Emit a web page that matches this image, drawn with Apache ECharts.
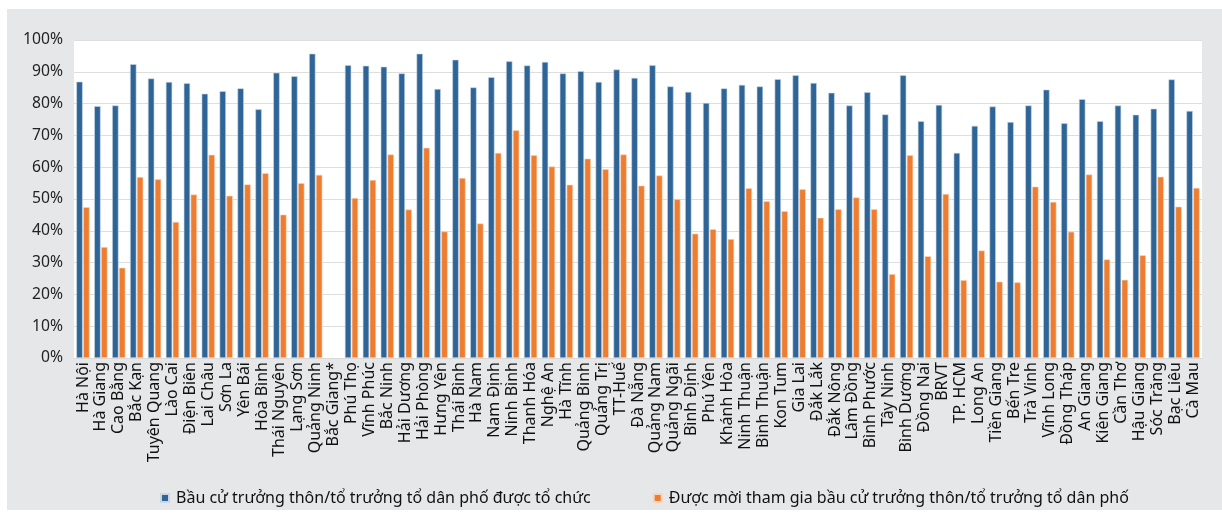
<!DOCTYPE html>
<html>
<head>
<meta charset="utf-8">
<script src="https://cdn.jsdelivr.net/npm/echarts@6/dist/echarts.min.js"></script>
<style>
  html, body { margin: 0; padding: 0; background: #ffffff; }
  #bg { position: absolute; left: 7px; top: 9px; width: 1215px; height: 501px; background: #e6e7e9; }
  #chart { position: absolute; left: 0; top: 0; width: 1222px; height: 516px; }
</style>
</head>
<body>
<div id="bg"></div>
<div id="chart"></div>
<script>
const provinces = ["Hà Nội","Hà Giang","Cao Bằng","Bắc Kạn","Tuyên Quang","Lào Cai","Điện Biên","Lai Châu","Sơn La","Yên Bái","Hòa Bình","Thái Nguyên","Lạng Sơn","Quảng Ninh","Bắc Giang*","Phú Thọ","Vĩnh Phúc","Bắc Ninh","Hải Dương","Hải Phòng","Hưng Yên","Thái Bình","Hà Nam","Nam Định","Ninh Bình","Thanh Hóa","Nghệ An","Hà Tĩnh","Quảng Bình","Quảng Trị","TT-Huế","Đà Nẵng","Quảng Nam","Quảng Ngãi","Bình Định","Phú Yên","Khánh Hòa","Ninh Thuận","Bình Thuận","Kon Tum","Gia Lai","Đắk Lắk","Đắk Nông","Lâm Đồng","Bình Phước","Tây Ninh","Bình Dương","Đồng Nai","BRVT","TP. HCM","Long An","Tiền Giang","Bến Tre","Trà Vinh","Vĩnh Long","Đồng Tháp","An Giang","Kiên Giang","Cần Thơ","Hậu Giang","Sóc Trăng","Bạc Liêu","Cà Mau"];

const electionHeld = [86.9,79.2,79.4,92.4,87.9,86.8,86.4,83.1,83.9,84.8,78.2,89.7,88.6,95.7,null,92.1,91.9,91.6,89.5,95.7,84.6,93.8,85.1,88.3,93.3,92.0,93.1,89.5,90.2,86.8,90.7,88.1,92.1,85.4,83.7,80.2,84.8,85.9,85.4,87.7,88.9,86.5,83.4,79.4,83.6,76.6,88.9,74.5,79.6,64.5,73.0,79.1,74.2,79.4,84.4,73.8,81.4,74.5,79.4,76.5,78.4,87.6,77.7];

const invited = [47.4,34.9,28.4,56.9,56.2,42.8,51.4,63.9,51.0,54.6,58.1,45.1,55.0,57.6,null,50.3,56.0,64.0,46.7,66.1,39.8,56.6,42.3,64.5,71.6,63.8,60.2,54.5,62.7,59.4,64.0,54.2,57.4,49.9,39.1,40.5,37.4,53.4,49.3,46.2,53.1,44.1,46.8,50.5,46.8,26.4,63.8,32.0,51.6,24.5,33.8,24.0,23.8,53.9,49.1,39.7,57.7,31.0,24.6,32.3,57.0,47.6,53.5];

const seriesNames = ["Bầu cử trưởng thôn/tổ trưởng tổ dân phố được tổ chức", "Được mời tham gia bầu cử trưởng thôn/tổ trưởng tổ dân phố"];
const yTicks = { min: 0, max: 100, interval: 10 };

const font = "'Noto Sans', 'Open Sans', sans-serif";
const chart = echarts.init(document.getElementById('chart'), null, { renderer: 'canvas' });
chart.setOption({
  backgroundColor: 'transparent',
  animation: false,
  grid: { left: 74, right: 20, top: 40, bottom: 158, show: true, backgroundColor: '#ffffff', borderWidth: 0 },
  legend: {
    left: 155, top: 485,
    itemWidth: 8, itemHeight: 8, itemGap: 62,
    icon: 'rect',
    textStyle: { fontFamily: font, fontSize: 16, color: '#111111', padding: [0, 0, 0, 2] },
    data: seriesNames
  },
  xAxis: {
    type: 'category',
    data: provinces,
    axisLine: { show: true, lineStyle: { color: '#d9d9d9', width: 1 } },
    axisTick: { show: false },
    axisLabel: { interval: 0, rotate: 90, fontFamily: font, fontSize: 16, color: '#111111', margin: 4 }
  },
  yAxis: {
    type: 'value',
    min: yTicks.min, max: yTicks.max, interval: yTicks.interval,
    axisLine: { show: false },
    axisTick: { show: false },
    splitLine: { lineStyle: { color: '#dedede', width: 1 } },
    axisLabel: { formatter: '{value}%', fontFamily: font, fontSize: 15.7, color: '#222222', margin: 11 }
  },
  series: [
    {
      name: seriesNames[0], type: 'bar', data: electionHeld,
      barGap: '8%', barCategoryGap: '26%',
      itemStyle: { color: '#2e6496', borderColor: '#c9d6e6', borderWidth: 0.6 }
    },
    {
      name: seriesNames[1], type: 'bar', data: invited,
      barGap: '8%', barCategoryGap: '26%',
      itemStyle: { color: '#ee7d31', borderColor: '#f9d6bd', borderWidth: 0.6 }
    }
  ]
});
</script>
</body>
</html>
